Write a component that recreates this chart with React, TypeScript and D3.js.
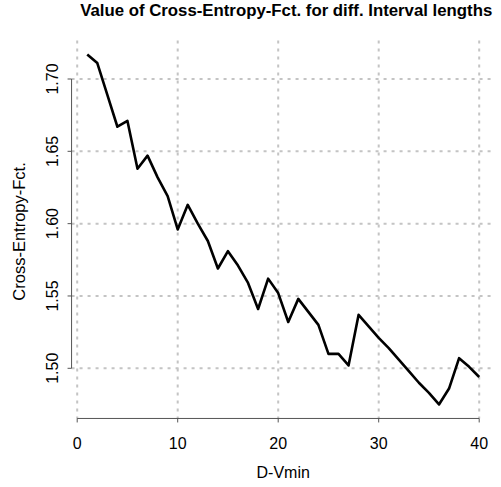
import React from "react";
import * as d3 from "d3";

const intervalLengths = d3.range(1, 41);
const crossEntropy = [
  1.717, 1.711, 1.689, 1.667, 1.671, 1.638, 1.647, 1.632, 1.619, 1.596,
  1.613, 1.600, 1.588, 1.569, 1.581, 1.571, 1.559, 1.541, 1.562, 1.552,
  1.532, 1.548, 1.539, 1.530, 1.510, 1.510, 1.502, 1.537, 1.529, 1.521,
  1.514, 1.506, 1.498, 1.490, 1.483, 1.475, 1.486, 1.507, 1.501, 1.494,
];
const xTicks = [0, 10, 20, 30, 40];
const yTicks = [1.5, 1.55, 1.6, 1.65, 1.7];
const title = "Value of Cross-Entropy-Fct. for diff. Interval lengths";
const xLabel = "D-Vmin";
const yLabel = "Cross-Entropy-Fct.";

export default function App() {
  const W = 501, H = 487;
  const x = d3.scaleLinear().domain([0, 40]).range([77.2, 479.2]);
  const y = d3.scaleLinear().domain([1.5, 1.7]).range([368.3, 79]);
  const xMin = d3.min(intervalLengths)!, xMax = d3.max(intervalLengths)!;
  const yMin = d3.min(crossEntropy)!, yMax = d3.max(crossEntropy)!;
  const xe = (xMax - xMin) * 0.04, ye = (yMax - yMin) * 0.04;
  const left = x(xMin - xe), right = x(xMax + xe);
  const bottom = y(yMin - ye), top = y(yMax + ye);
  const line = d3
    .line<number>()
    .x((_, i) => x(intervalLengths[i]))
    .y((d) => y(d));
  const font = "'Liberation Sans', Arial, sans-serif";
  const grid = "#c4c4c4";
  const axisCol = "#555";
  return (
    <svg
      width={W}
      height={H}
      style={{ position: "absolute", left: 0, top: 0, background: "#fff" }}
      fontFamily={font}
    >
      <rect width={W} height={H} fill="#fff" />
      {xTicks.map((t) => (
        <line key={"gx" + t} x1={x(t)} x2={x(t)} y1={top} y2={bottom}
          stroke={grid} strokeWidth={2} strokeDasharray="3,5" />
      ))}
      {yTicks.map((t) => (
        <line key={"gy" + t} x1={left} x2={right} y1={y(t)} y2={y(t)}
          stroke={grid} strokeWidth={2} strokeDasharray="3,5" />
      ))}
      <path d={line(crossEntropy)!} fill="none" stroke="#000" strokeWidth={2.6} strokeLinejoin="round" />
      {/* x axis */}
      <line x1={x(0)} x2={x(40)} y1={bottom} y2={bottom} stroke={axisCol} strokeWidth={1} />
      {xTicks.map((t) => (
        <g key={"xt" + t}>
          <line x1={x(t)} x2={x(t)} y1={bottom} y2={bottom + 4} stroke={axisCol} />
          <text x={x(t)} y={448.5} textAnchor="middle" fontSize={16} fill="#000">{t}</text>
        </g>
      ))}
      {/* y axis */}
      <line x1={left} x2={left} y1={y(1.5)} y2={y(1.7)} stroke={axisCol} strokeWidth={1} />
      {yTicks.map((t) => (
        <g key={"yt" + t}>
          <line x1={left} x2={left - 4} y1={y(t)} y2={y(t)} stroke={axisCol} />
          <text transform={`translate(57.5,${y(t)}) rotate(-90)`} textAnchor="middle"
            fontSize={16} fill="#000">{t.toFixed(2)}</text>
        </g>
      ))}
      <text x={(left + right) / 2} y={478} textAnchor="middle" fontSize={16} fill="#000">{xLabel}</text>
      <text transform={`translate(25,${(top + bottom) / 2 + 2}) rotate(-90)`} textAnchor="middle"
        fontSize={16.5} fill="#000">{yLabel}</text>
      <text x={(left + right) / 2 + 3} y={15.5} textAnchor="middle" fontSize={16.8} fontWeight="bold" fill="#000">{title}</text>
    </svg>
  );
}
